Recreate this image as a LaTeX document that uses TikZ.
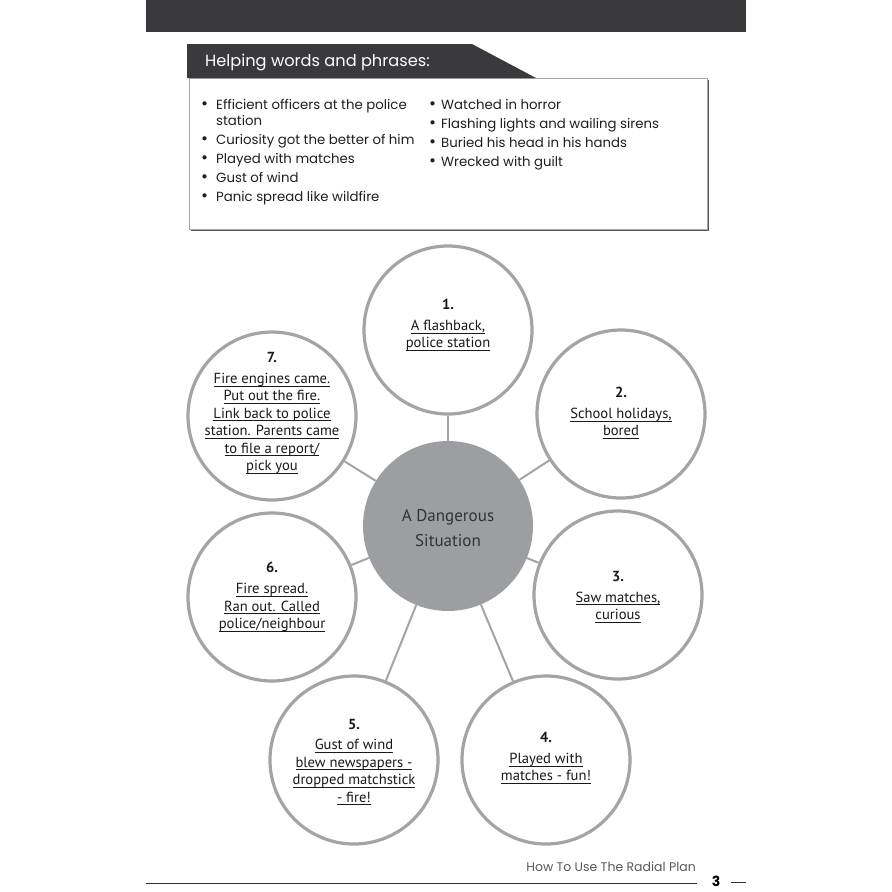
\documentclass[tikz,border=0pt]{standalone}
\usepackage{fontspec}
\setmainfont{Poppins}
\newfontfamily\handfont{PT Sans}
\usetikzlibrary{backgrounds}
\definecolor{darkbar}{HTML}{3A3A3C}
\definecolor{ringgray}{HTML}{A2A4A8}
\definecolor{hubgray}{HTML}{9C9EA2}
\newcommand\ulx[1]{\setbox0=\hbox{#1}\rlap{\rule[-3pt]{\wd0}{0.9pt}}\box0}
\newcommand\bl[1]{\makebox[#1][l]{\raisebox{-0.5pt}{\fontsize{17}{16}\selectfont\textbullet}}}
\begin{document}
\begin{tikzpicture}[x=1pt,y=-1pt,
  ring/.style={circle,draw=ringgray,line width=3.2pt,fill=white,minimum size=168pt,inner sep=0pt},
  hub/.style={circle,fill=hubgray,minimum size=170pt,inner sep=0pt},
  spoke/.style={draw=ringgray,line width=2pt},
  ringtext/.style={align=center,inner sep=0pt,font=\handfont\fontsize{14.6}{17.4}\selectfont,text=black!90},
  listtext/.style={anchor=base west,inner sep=0pt,font=\fontsize{13.3}{16}\selectfont,text=black!88}]
\useasboundingbox (0,0) rectangle (892,892);
% top bar
\fill[darkbar] (146,0) rectangle (746,32);
% helping words box
\draw[black!35,line width=0.8pt] (189,78) rectangle (707,229);
\draw[black!65,line width=1.6pt] (708.5,80) -- (708.5,230.5) -- (191,230.5);
\fill[darkbar] (187,44) -- (472,44) -- (536,78) -- (187,78) -- cycle;
\node[anchor=base west,inner sep=0pt,text=white,font=\fontsize{16.2}{18}\selectfont] (title) at (205,66) {Helping words and phrases:};
\node[listtext] (left) at (201,109) {\begin{tabular}[t]{@{}l@{}l@{}}
\bl{15pt} & Efficient officers at the police\\
 & station\\[3pt]
\bl{15pt} & Curiosity got the better of him\\[3pt]
\bl{15pt} & Played with matches\\[3pt]
\bl{15pt} & Gust of wind\\[3pt]
\bl{15pt} & Panic spread like wildfire
\end{tabular}};
\node[listtext] (right) at (429,109) {\begin{tabular}[t]{@{}l@{}l@{}}
\bl{12pt} & Watched in horror\\[3pt]
\bl{12pt} & Flashing lights and wailing sirens\\[3pt]
\bl{12pt} & Buried his head in his hands\\[3pt]
\bl{12pt} & Wrecked with guilt
\end{tabular}};
% radial plan
\node[hub] (hub) at (448,526) {};
\node[ring] (c1) at (448,330) {};
\node[ring] (c2) at (621,414) {};
\node[ring] (c3) at (618,595) {};
\node[ring] (c4) at (546,760) {};
\node[ring] (c5) at (354,760) {};
\node[ring] (c6) at (272,597) {};
\node[ring] (c7) at (272,416) {};
\begin{scope}[on background layer]
\fill[white] (0,0) rectangle (892,892);
\foreach \c in {c1,c2,c3,c4,c5,c6,c7} \draw[spoke] (hub) -- (\c);
\end{scope}
\node[align=center,inner sep=0pt,text=black!80,font=\handfont\fontsize{17}{25}\selectfont] (hubtext) at (448,528) {A Dangerous\\Situation};
\node[ringtext] (t1) at (448,325) {\textbf{1.}\\[3.5pt]\ulx{A flashback,}\\\ulx{police station}};
\node[ringtext] (t2) at (621,413) {\textbf{2.}\\[3.5pt]\ulx{School holidays,}\\\ulx{bored}};
\node[ringtext] (t3) at (618,597) {\textbf{3.}\\[3.5pt]\ulx{Saw matches,}\\\ulx{curious}};
\node[ringtext] (t4) at (546,758) {\textbf{4.}\\[3.5pt]\ulx{Played with}\\\ulx{matches - fun!}};
\node[ringtext] (t5) at (354,762) {\textbf{5.}\\[3.5pt]\ulx{Gust of wind}\\\ulx{blew newspapers -}\\\ulx{dropped matchstick}\\\ulx{- fire!}};
\node[ringtext] (t6) at (272,597) {\textbf{6.}\\[3.5pt]\ulx{Fire spread.}\\\ulx{Ran out. Called}\\\ulx{police/neighbour}};
\node[ringtext] (t7) at (272,413) {\textbf{7.}\\[3.5pt]\ulx{Fire engines came.}\\\ulx{Put out the fire.}\\\ulx{Link back to police}\\\ulx{station. Parents came}\\\ulx{to file a report/}\\\ulx{pick you}};
% footer
\node[anchor=base east,inner sep=0pt,text=black!65,font=\fontsize{12.5}{13}\selectfont] (foot) at (696,871) {How To Use The Radial Plan};
\draw[black!80,line width=1pt] (146,883) -- (697,883);
\node[inner sep=0pt,font=\bfseries\fontsize{14}{16}\selectfont] (pg) at (716,881) {3};
\draw[black!80,line width=1pt] (731,882) -- (746,882);
\end{tikzpicture}
\end{document}
